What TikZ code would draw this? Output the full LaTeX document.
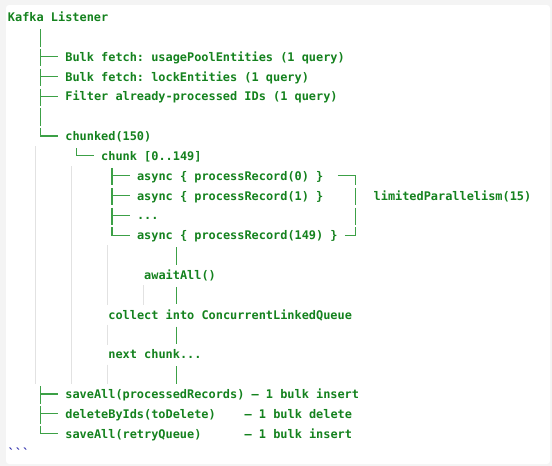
\documentclass[tikz,border=0pt]{standalone}
\usepackage{fontspec}
\setmonofont{DejaVu Sans Mono}
\definecolor{codegreen}{HTML}{14821E}
\definecolor{treegreen}{HTML}{3CA046}
\definecolor{guidegray}{HTML}{E2E2E2}
\definecolor{fenceblue}{HTML}{2828AA}
\definecolor{framegray}{HTML}{F4F4F4}
% column x and baseline y helpers
\newcommand\mycx[1]{{8+7.17*(#1)}}
\newcommand\myby[1]{{21.5+19.84*(#1)}}
\newcommand\myvert[2]{\draw[tree] ({8+7.17*(#1+0.5)},{21.5+19.84*(#2)-12.3}) -- ++(0,17.5);}
\newcommand\mytee[2]{\myvert{#1}{#2}\draw[tree] ({8+7.17*(#1+0.5)},{21.5+19.84*(#2)-4.5}) -- ({8+7.17*(#1+3)},{21.5+19.84*(#2)-4.5});}
\newcommand\myell[2]{\draw[tree] ({8+7.17*(#1+0.5)},{21.5+19.84*(#2)-12.3}) |- ({8+7.17*(#1+3)},{21.5+19.84*(#2)-4.5});}
\newcommand\mycode[4]{\node[code] (#1) at ({8+7.17*(#2)},{21.5+19.84*(#3)}) {#4};}
\newcommand\myguide[3]{\draw[guide] (#1,{21.5+19.84*(#2)-14.1}) -- (#1,{21.5+19.84*(#3)+5.7});}
\begin{document}
\begin{tikzpicture}[x=1pt,y=-1pt,
  code/.style={anchor=base west, inner sep=0pt, outer sep=0pt, text=codegreen,
    font=\ttfamily\bfseries\fontsize{11.9}{14}\selectfont},
  fence/.style={code, text=fenceblue},
  tree/.style={draw=treegreen, line width=1.2pt},
  guide/.style={draw=guidegray, line width=1pt}]
\useasboundingbox (0,0) rectangle (552,466);
\fill[framegray] (0,0) rectangle (552,466);
\fill[white, rounded corners=3pt] (6,5) rectangle (550,464);

% indent guides
\myguide{35.7}{7}{18}
\myguide{71.7}{8}{18}
\myguide{107.7}{12}{14}
\myguide{107.7}{16}{16}
\myguide{107.7}{18}{18}
\myguide{143.3}{14}{14}

% texts
\mycode{root}{0}{0}{Kafka Listener}
\mycode{fetchA}{8}{2}{Bulk fetch: usagePoolEntities (1 query)}
\mycode{fetchB}{8}{3}{Bulk fetch: lockEntities (1 query)}
\mycode{filter}{8}{4}{Filter already-processed IDs (1 query)}
\mycode{chunked}{8}{6}{chunked(150)}
\mycode{chunk}{13}{7}{chunk [0..149]}
\mycode{rec0}{18}{8}{async \{ processRecord(0) \}}
\mycode{rec1}{18}{9}{async \{ processRecord(1) \}}
\mycode{limit}{51}{9}{limitedParallelism(15)}
\mycode{dots}{18}{10}{...}
\mycode{rec149}{18}{11}{async \{ processRecord(149) \}}
\mycode{await}{19}{13}{awaitAll()}
\mycode{collect}{14}{15}{collect into ConcurrentLinkedQueue}
\mycode{next}{14}{17}{next chunk...}
\mycode{saveP}{8}{19}{saveAll(processedRecords) — 1 bulk insert}
\mycode{del}{8}{20}{deleteByIds(toDelete)}
\mycode{delN}{33}{20}{— 1 bulk delete}
\mycode{saveR}{8}{21}{saveAll(retryQueue)}
\mycode{saveRN}{33}{21}{— 1 bulk insert}
\node[fence] (fenceend) at (8,{21.5+19.84*22}) {\symbol{96}\symbol{96}\symbol{96}};

% tree glyphs
\myvert{4}{1}
\mytee{4}{2}
\mytee{4}{3}
\mytee{4}{4}
\myvert{4}{5}
\myell{4}{6}
\myell{9}{7}
\mytee{14}{8}
\mytee{14}{9}
\mytee{14}{10}
\myell{14}{11}
\myvert{23}{12}
\myvert{23}{14}
\myvert{23}{16}
\myvert{23}{18}
\mytee{4}{19}
\mytee{4}{20}
\myell{4}{21}

% bracket for limitedParallelism
\draw[tree] ({8+7.17*46},{21.5+19.84*8-4.5}) -| ({8+7.17*48.5},{21.5+19.84*8+5.2});
\myvert{48}{9}
\myvert{48}{10}
\draw[tree] ({8+7.17*47},{21.5+19.84*11-4.5}) -| ({8+7.17*48.5},{21.5+19.84*11-12.3});
\end{tikzpicture}
\end{document}
